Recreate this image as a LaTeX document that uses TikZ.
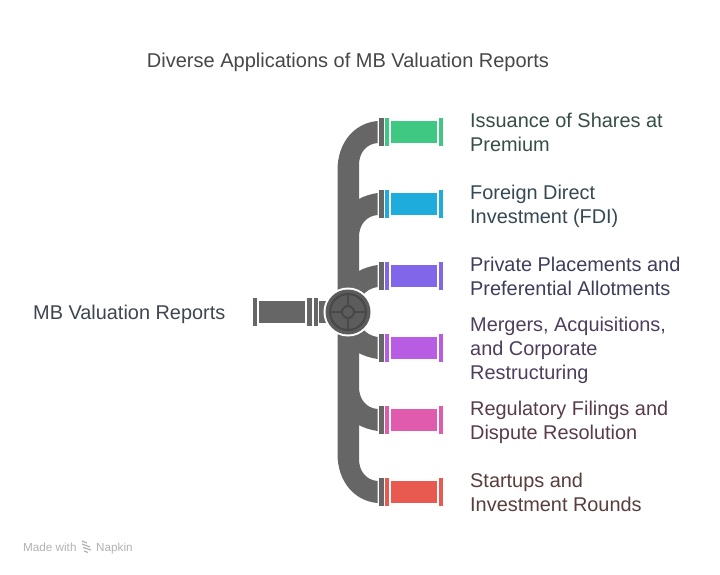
\documentclass[tikz,border=0pt]{standalone}
\usepackage{fontspec}
\setmainfont{Liberation Sans}
\definecolor{pipe}{HTML}{666666}
\definecolor{valve}{HTML}{5C5C5C}
\definecolor{ring}{HTML}{484848}
\definecolor{cgreen}{HTML}{3EC882}
\definecolor{cblue}{HTML}{1DACDC}
\definecolor{cpurple}{HTML}{8266EA}
\definecolor{cviolet}{HTML}{B85CE4}
\definecolor{cpink}{HTML}{E05AAE}
\definecolor{cred}{HTML}{E85A50}
\newcommand{\st}{\rule[-5pt]{0pt}{24pt}}
\tikzset{
  x=1pt,y=-1pt,
  lbl/.style={anchor=west,align=left,inner sep=0pt,font=\fontsize{19.9}{24}\selectfont},
  titlelbl/.style={anchor=center,inner sep=0pt,text=black!72,font=\fontsize{20}{24}\selectfont},
  madelbl/.style={anchor=base west,inner sep=0pt,text=black!30,font=\fontsize{11.7}{14}\selectfont},
  ringline/.style={draw=ring,line width=2.1pt}
}
\newcommand{\outlet}[2]{%
  \fill[pipe] (379,#1-14) rectangle (383.5,#1+14);
  \fill[#2] (385,#1-14) rectangle (389,#1+14);
  \fill[#2] (391,#1-11) rectangle (437,#1+11);
  \fill[#2] (439,#1-14) rectangle (443,#1+14);
}
\begin{document}
\begin{tikzpicture}
\useasboundingbox (0,0) rectangle (720,574);
\fill[white] (0,0) rectangle (720,574);
% pipe network
\fill[pipe] (337.5,300)
  -- (337.5,170) .. controls (337.5,143) and (354,123) .. (377.5,121)
  -- (377.5,143) .. controls (366,144) and (359,153) .. (359,165)
  -- (359,199) .. controls (364,196) and (371,194) .. (377.5,193)
  -- (377.5,215) .. controls (366,216) and (359,225) .. (359,237)
  -- (359,271) .. controls (364,268) and (371,266) .. (377.5,265)
  -- (377.5,287) .. controls (371,288) and (366,291) .. (362,296)
  -- (362,328) .. controls (366,333) and (371,336) .. (377.5,337)
  -- (377.5,359) .. controls (371,358) and (364,356) .. (359,353)
  -- (359,387) .. controls (359,399) and (366,408) .. (377.5,409)
  -- (377.5,431) .. controls (371,430) and (364,428) .. (359,425)
  -- (359,459) .. controls (359,471) and (366,480) .. (377.5,481)
  -- (377.5,503) .. controls (354,501) and (337.5,481) .. (337.5,454)
  -- cycle;
\outlet{132}{cgreen}
\outlet{204}{cblue}
\outlet{276}{cpurple}
\outlet{348}{cviolet}
\outlet{420}{cpink}
\outlet{492}{cred}
% inlet
\fill[pipe] (253,298) rectangle (257,326);
\fill[pipe] (259,301) rectangle (305,323);
\fill[pipe] (307,298) rectangle (311.5,326);
\fill[pipe] (313.5,298) rectangle (317.5,326);
\fill[pipe] (319,301) rectangle (330,323);
% valve
\fill[white] (348,312) circle (24.5);
\fill[valve] (348,312) circle (22.5);
\draw[ringline] (348,312) circle (18);
\draw[ringline] (348,312) circle (6);
\draw[ringline] (348,294) -- (348,306);
\draw[ringline] (348,318) -- (348,330);
\draw[ringline] (330,312) -- (342,312);
\draw[ringline] (354,312) -- (366,312);
% text
\node[titlelbl] (title) at (348,60) {\st Diverse Applications of MB Valuation Reports};
\node[lbl,text={rgb,255:red,62;green,70;blue,80}] (src) at (33,312) {\st MB Valuation Reports};
\node[lbl,text={rgb,255:red,54;green,78;blue,68}] (t1) at (470,132) {\st Issuance of Shares at\\\st Premium};
\node[lbl,text={rgb,255:red,54;green,72;blue,82}] (t2) at (470,204) {\st Foreign Direct\\\st Investment (FDI)};
\node[lbl,text={rgb,255:red,62;green,62;blue,92}] (t3) at (470,276) {\st Private Placements and\\\st Preferential Allotments};
\node[lbl,text={rgb,255:red,78;green,62;blue,92}] (t4) at (470,348) {\st Mergers, Acquisitions,\\\st and Corporate\\\st Restructuring};
\node[lbl,text={rgb,255:red,88;green,60;blue,76}] (t5) at (470,420) {\st Regulatory Filings and\\\st Dispute Resolution};
\node[lbl,text={rgb,255:red,88;green,62;blue,60}] (t6) at (470,492) {\st Startups and\\\st Investment Rounds};
% watermark
\node[madelbl] (made) at (23,551) {Made with};
\draw[black!30,line width=1.2pt] (82,541) -- (87,543);
\draw[black!30,line width=1.2pt] (82,544) -- (90,547);
\draw[black!30,line width=1.2pt] (83,547.5) -- (91,550);
\draw[black!30,line width=1.2pt] (84,551) -- (88,552.5);
\node[madelbl] (napkin) at (96,551) {Napkin};
\end{tikzpicture}
\end{document}
